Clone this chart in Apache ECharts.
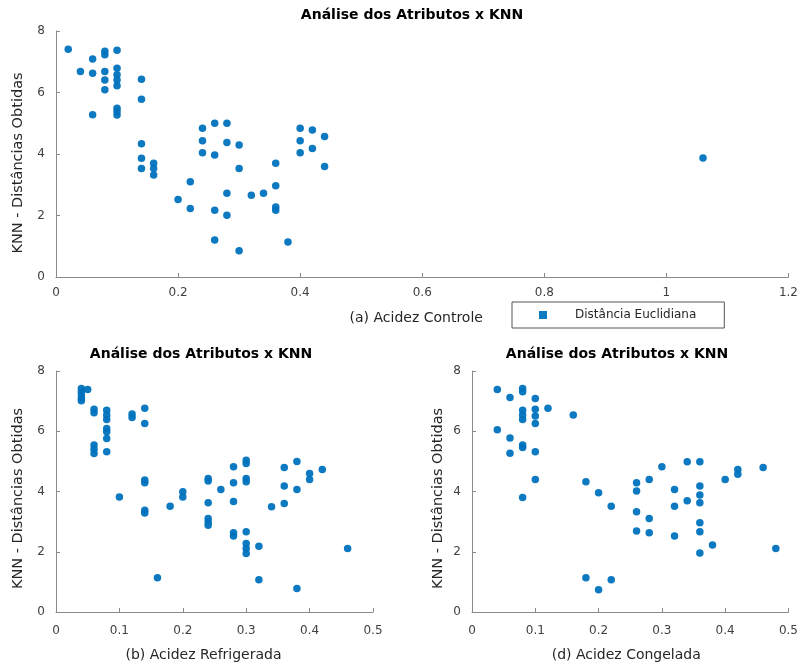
<!DOCTYPE html>
<html>
<head>
<meta charset="utf-8">
<script src="https://cdn.jsdelivr.net/npm/echarts@6/dist/echarts.min.js"></script>
<style>html,body{margin:0;padding:0;background:#fff}#c{width:801px;height:665px}</style>
</head>
<body>
<div id="c"></div>
<script>
// (a) Acidez Controle
const aX = [0.02,0.04,0.06,0.06,0.06,0.08,0.08,0.08,0.08,0.08,0.10,0.10,0.10,0.10,0.10,0.10,0.10,0.10,0.14,0.14,0.14,0.14,0.14,0.16,0.16,0.16,0.20,0.22,0.22,0.24,0.24,0.24,0.26,0.26,0.26,0.26,0.28,0.28,0.28,0.28,0.30,0.30,0.30,0.32,0.34,0.36,0.36,0.36,0.36,0.38,0.40,0.40,0.40,0.42,0.42,0.44,0.44,1.06];
const aY = [7.41,6.68,7.09,6.63,5.28,7.34,7.23,6.68,6.41,6.09,7.37,6.79,6.58,6.41,6.22,5.49,5.38,5.27,6.43,5.78,4.33,3.86,3.53,3.70,3.53,3.32,2.52,3.10,2.23,4.84,4.43,4.04,5.00,3.97,2.17,1.20,5.00,4.37,2.72,2.01,4.29,3.53,0.85,2.66,2.72,3.70,2.97,2.28,2.17,1.14,4.84,4.43,4.04,4.78,4.18,4.57,3.59,3.87];
// (b) Acidez Refrigerada
const bX = [0.04,0.04,0.04,0.04,0.04,0.05,0.06,0.06,0.06,0.06,0.06,0.08,0.08,0.08,0.08,0.08,0.08,0.08,0.10,0.12,0.12,0.14,0.14,0.14,0.14,0.14,0.14,0.16,0.18,0.20,0.20,0.24,0.24,0.24,0.24,0.24,0.24,0.26,0.28,0.28,0.28,0.28,0.28,0.30,0.30,0.30,0.30,0.30,0.30,0.30,0.30,0.32,0.32,0.34,0.36,0.36,0.36,0.38,0.38,0.38,0.40,0.40,0.42,0.46];
const bY = [7.42,7.31,7.20,7.09,7.01,7.39,6.73,6.61,5.54,5.40,5.26,6.70,6.54,6.39,6.09,5.98,5.76,5.32,3.82,6.57,6.46,6.76,6.26,4.38,4.29,3.38,3.29,1.14,3.51,3.99,3.82,4.43,4.35,3.63,3.10,2.99,2.88,4.07,4.82,4.29,3.67,2.63,2.52,5.04,4.93,4.43,4.32,2.66,2.27,2.11,1.94,2.18,1.07,3.49,4.80,4.18,3.60,5.00,4.07,0.78,4.60,4.40,4.73,2.11];
// (d) Acidez Congelada
const cX = [0.04,0.04,0.06,0.06,0.06,0.08,0.08,0.08,0.08,0.08,0.08,0.08,0.08,0.10,0.10,0.10,0.10,0.10,0.10,0.12,0.16,0.18,0.18,0.20,0.20,0.22,0.22,0.26,0.26,0.26,0.26,0.28,0.28,0.28,0.30,0.32,0.32,0.32,0.34,0.34,0.36,0.36,0.36,0.36,0.36,0.36,0.36,0.38,0.40,0.42,0.42,0.46,0.48];
const cY = [7.39,6.05,7.12,5.78,5.27,7.42,7.31,6.70,6.54,6.39,5.54,5.46,3.80,7.09,6.73,6.51,6.26,5.32,4.40,6.76,6.54,4.32,1.14,3.96,0.74,3.51,1.07,4.29,4.02,3.33,2.69,4.40,3.10,2.63,4.82,4.07,3.51,2.52,4.99,3.69,4.99,4.18,3.88,3.63,2.96,2.66,1.96,2.22,4.40,4.73,4.57,4.80,2.11];

const titleText = 'Análise dos Atributos x KNN';
const yName = 'KNN - Distâncias Obtidas';
const xNames = ['(a) Acidez Controle', '(b) Acidez Refrigerada', '(d) Acidez Congelada'];
const seriesName = 'Distância Euclidiana';

const zip = (xs, ys) => xs.map((x, i) => [x, ys[i]]);
const FONT = 'DejaVu Sans, Liberation Sans, sans-serif';
const lineCol = '#8a8a8a';
const txtCol = '#404040';
const color = '#0072BD';

function xAxis(gi, max, interval, nameGap, margin, shiftPad) {
  return {
    type: 'value', gridIndex: gi, min: 0, max: max, interval: interval,
    name: xNames[gi], nameLocation: 'middle', nameGap: nameGap,
    nameTextStyle: { fontFamily: FONT, fontSize: 14, color: '#262626', padding: [0, shiftPad, 0, 0] },
    axisLine: { show: true, lineStyle: { color: lineCol, width: 1 } },
    axisTick: { show: true, inside: true, length: 4, lineStyle: { color: lineCol } },
    axisLabel: { fontFamily: FONT, fontSize: 12, color: txtCol, margin: margin },
    splitLine: { show: false }
  };
}
function yAxis(gi, nameGap, shiftPad) {
  return {
    type: 'value', gridIndex: gi, min: 0, max: 8, interval: 2,
    name: yName, nameLocation: 'middle', nameGap: nameGap,
    nameTextStyle: { fontFamily: FONT, fontSize: 14.5, color: '#262626', padding: [0, shiftPad, 0, 0] },
    axisLine: { show: true, lineStyle: { color: lineCol, width: 1 } },
    axisTick: { show: true, inside: true, length: 4, lineStyle: { color: lineCol } },
    axisLabel: { fontFamily: FONT, fontSize: 12, color: txtCol, margin: 11 },
    splitLine: { show: false }
  };
}
function scatter(gi, data) {
  return {
    type: 'scatter', name: seriesName, xAxisIndex: gi, yAxisIndex: gi,
    data: data, symbol: 'circle', symbolSize: 7.5,
    itemStyle: { color: color, opacity: 0.95 }
  };
}

const chart = echarts.init(document.getElementById('c'), null, { renderer: 'canvas' });
const titleStyle = { fontFamily: FONT, fontSize: 14, fontWeight: 'bold', color: '#000' };
chart.setOption({
  backgroundColor: '#ffffff',
  animation: false,
  title: [
    { text: titleText, left: 412, top: 8, textAlign: 'center', padding: 0, textStyle: titleStyle },
    { text: titleText, left: 201, top: 347, textAlign: 'center', padding: 0, textStyle: titleStyle },
    { text: titleText, left: 617, top: 347, textAlign: 'center', padding: 0, textStyle: titleStyle }
  ],
  legend: {
    data: [seriesName], left: 512, top: 302,
    orient: 'horizontal',
    icon: 'rect', itemWidth: 8, itemHeight: 8, itemGap: 10,
    padding: [7, 28, 7, 27],
    borderColor: '#555', borderWidth: 1, borderRadius: 0,
    textStyle: { fontFamily: FONT, fontSize: 12, color: '#262626', padding: [0, 0, 0, 23] }
  },
  grid: [
    { left: 56, right: 12, top: 31, bottom: 388 },
    { left: 56, right: 428, top: 371, bottom: 53 },
    { left: 472, right: 11, top: 371, bottom: 53 }
  ],
  xAxis: [ xAxis(0, 1.2, 0.2, 34, 10, 12), xAxis(1, 0.5, 0.1, 36, 13, 22), xAxis(2, 0.5, 0.1, 36, 13, 8) ],
  yAxis: [ yAxis(0, 30, 18), yAxis(1, 30, 14), yAxis(2, 26, 14) ],
  series: [ scatter(0, zip(aX, aY)), scatter(1, zip(bX, bY)), scatter(2, zip(cX, cY)) ]
});
</script>
</body>
</html>
